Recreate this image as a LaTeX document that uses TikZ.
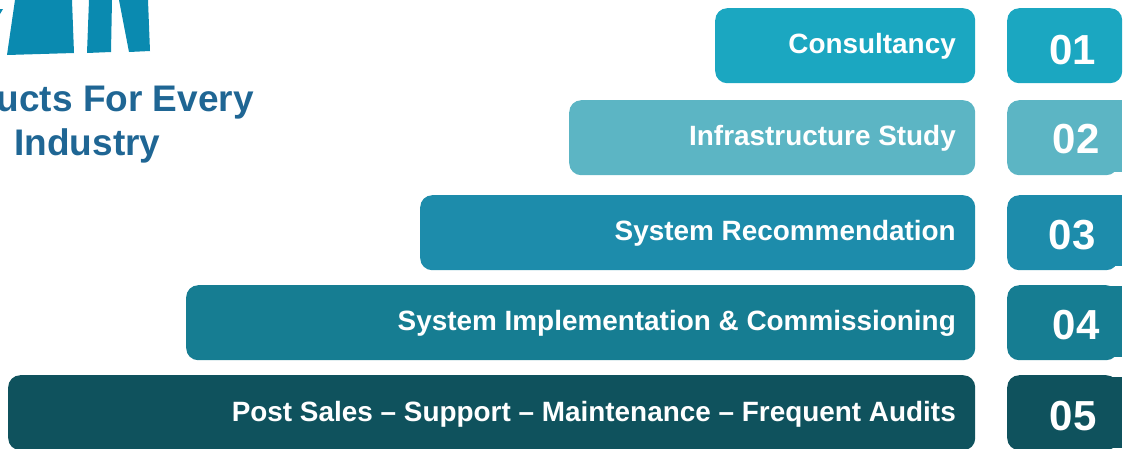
\documentclass[tikz,border=0pt]{standalone}
\usepackage{fontspec}
\setmainfont{Liberation Sans}
\usepackage{xcolor}
\definecolor{rowA}{HTML}{1BA7C1}
\definecolor{rowB}{HTML}{5CB5C4}
\definecolor{rowC}{HTML}{1D8CAB}
\definecolor{rowD}{HTML}{167D92}
\definecolor{rowE}{HTML}{0F525D}
\definecolor{logoblue}{HTML}{0A8AB0}
\definecolor{headblue}{HTML}{1F6694}
\tikzset{
  bar/.style = {rounded corners=12pt, anchor=north west, inner sep=0pt, minimum height=75pt},
  barlabel/.style = {anchor=base east, inner sep=0pt, text=white, font=\bfseries\fontsize{27.9}{32}\selectfont},
  numlabel/.style = {anchor=base west, inner sep=0pt, text=white, font=\bfseries\fontsize{42}{48}\selectfont},
  headlabel/.style = {anchor=base east, inner sep=0pt, text=headblue, font=\bfseries\fontsize{37}{40}\selectfont},
}
\begin{document}
\begin{tikzpicture}[x=1pt, y=-1pt]
	\def\barright{975};
	\def\textright{956};
	\def\numleft{1007};

	\useasboundingbox (0,0) rectangle (1126,448);

	\begin{scope}
		\fill [logoblue] (15,0) -- (7,55) -- (74,53) -- (72,0) -- cycle;
		\fill [logoblue] (89,0) -- (87,53) -- (111,52) -- (112,0) -- cycle;
		\fill [logoblue] (119,0) -- (129,52) -- (150,51) -- (148,0) -- cycle;
		\fill [logoblue] (0,14) -- (3,9) -- (0,9) -- cycle;
	\end{scope}

	\node [headlabel] (headtop) at (254,111) {ucts For Every};
	\node [headlabel] (headbottom) at (160.5,155) {Industry};

	\begin{scope}
		\node [bar, fill=rowA, minimum width=260pt] (barA) at (715,8) {};
		\node [bar, fill=rowB, minimum width=406pt] (barB) at (569,100) {};
		\node [bar, fill=rowC, minimum width=555pt] (barC) at (420,195) {};
		\node [bar, fill=rowD, minimum width=789pt] (barD) at (186,285) {};
		\node [bar, fill=rowE, minimum width=967pt] (barE) at (8,375) {};

		\node [barlabel] (textA) at (\textright,53) {Consultancy};
		\node [barlabel] (textB) at (\textright,145) {Infrastructure Study};
		\node [barlabel] (textC) at (\textright,240) {System Recommendation};
		\node [barlabel] (textD) at (\textright,330) {System Implementation \& Commissioning};
		\node [barlabel] (textE) at (\textright,421) {Post Sales – Support – Maintenance – Frequent Audits};
	\end{scope}

	\begin{scope}
		\fill [rowB] (1100,100) rectangle (1122,172);
		\fill [rowC] (1100,195) rectangle (1122,266);
		\fill [rowD] (1100,286) rectangle (1122,357);
		\fill [rowE] (1100,377) rectangle (1122,448);

		\node [bar, fill=rowA, minimum width=115pt] (numA) at (\numleft,8) {};
		\node [bar, fill=rowB, minimum width=111pt] (numB) at (\numleft,100) {};
		\node [bar, fill=rowC, minimum width=111pt] (numC) at (\numleft,195) {};
		\node [bar, fill=rowD, minimum width=111pt] (numD) at (\numleft,285) {};
		\node [bar, fill=rowE, minimum width=111pt] (numE) at (\numleft,375) {};

		\node [numlabel] (digitA) at (1049,64) {01};
		\node [numlabel] (digitB) at (1052.5,153) {02};
		\node [numlabel] (digitC) at (1048.5,249) {03};
		\node [numlabel] (digitD) at (1052.5,339) {04};
		\node [numlabel] (digitE) at (1049.5,430) {05};
	\end{scope}
\end{tikzpicture}
\end{document}
